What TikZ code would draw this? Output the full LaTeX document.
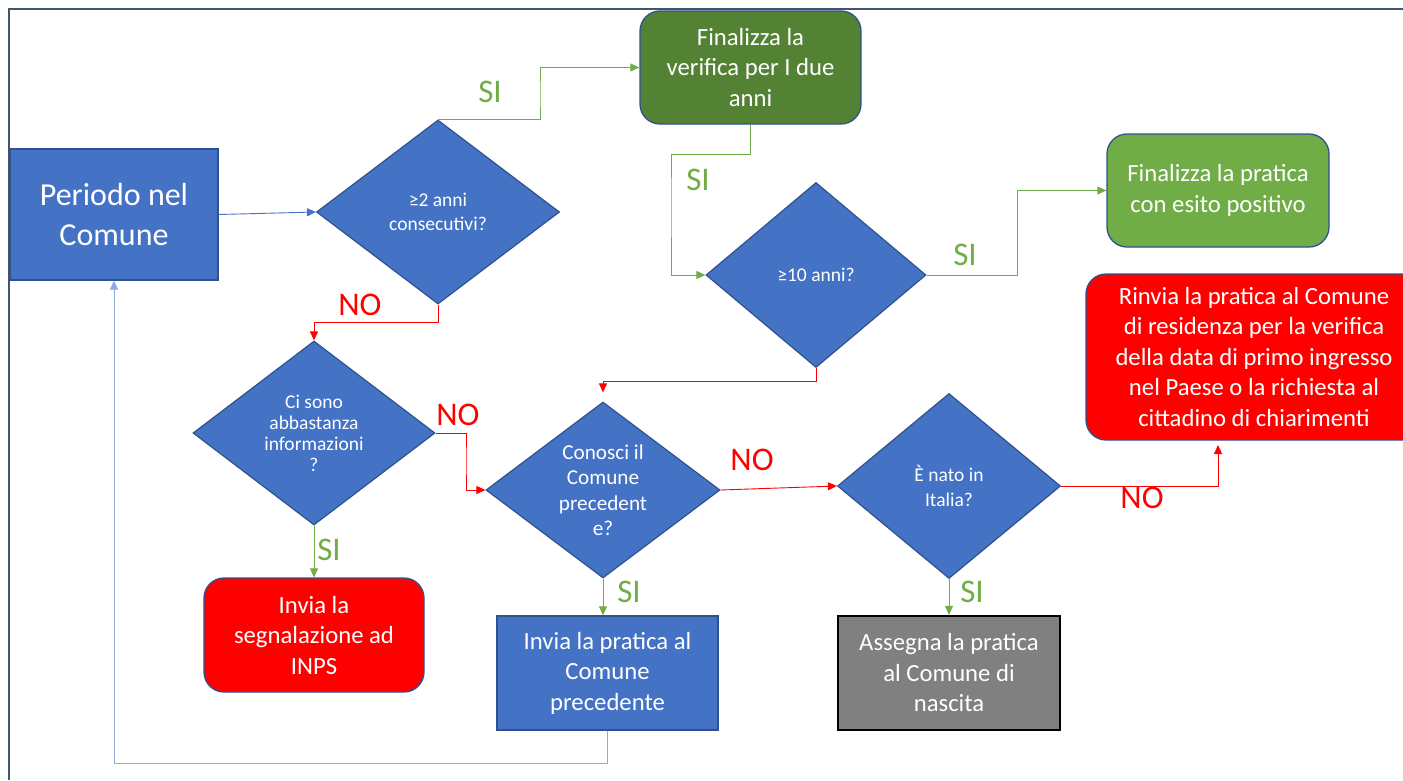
\documentclass[tikz,border=0pt]{standalone}
\usepackage{fontspec}
\setmainfont{Carlito}
\usetikzlibrary{shapes.geometric,arrows.meta}
\definecolor{pblue}{HTML}{4472C4}
\definecolor{pedge}{HTML}{2F528F}
\definecolor{dgreen}{HTML}{548235}
\definecolor{lgreen}{HTML}{70AD47}
\definecolor{pred}{HTML}{FF0000}
\definecolor{pgray}{HTML}{808080}
\definecolor{loopblue}{HTML}{8FAADC}
\definecolor{frame}{HTML}{44546A}
\begin{document}
\begin{tikzpicture}[x=1pt,y=-1pt,
  box/.style={draw=pedge,line width=1.3pt,text=white,align=center,inner sep=0pt,
    font=\fontsize{24.7}{30.5}\selectfont},
  rbox/.style={box,rounded corners=20pt},
  dia/.style={diamond,draw=pedge,line width=1.2pt,fill=pblue,text=white,align=center,inner sep=0pt},
  dtext/.style={text=white,align=center,inner sep=0pt},
  conn/.style={line width=0.9pt,-{Triangle[length=9pt,width=8pt]}},
  gline/.style={conn,draw=lgreen},
  rline/.style={conn,draw=pred},
  bline/.style={conn,draw=pblue},
  lbline/.style={conn,draw=loopblue},
  silab/.style={text=lgreen,font=\fontsize{33}{33}\selectfont,inner sep=0pt},
  nolab/.style={text=pred,font=\fontsize{33}{33}\selectfont,inner sep=0pt}]
\useasboundingbox (0,0) rectangle (1403,780);
\clip (0,0) rectangle (1403,780);
\fill[white] (0,0) rectangle (1403,780);
\draw[frame,line width=2pt] (9,780) -- (9,9) -- (1403,9);

% nodes
\node[box,fill=pblue,minimum width=208pt,minimum height=131pt,font=\fontsize{32}{40}\selectfont] (A) at (114,214.5) {Periodo nel\\Comune};
\node[rbox,fill=dgreen,minimum width=221pt,minimum height=113pt] (B) at (750.5,67.5) {Finalizza la\\verifica per I due\\anni};
\node[rbox,fill=lgreen,minimum width=222pt,minimum height=113pt] (C) at (1218,190.5) {Finalizza la pratica\\con esito positivo};
\node[rbox,fill=pred,minimum width=336pt,minimum height=166pt] (R) at (1254,357) {Rinvia la pratica al Comune\\di residenza per la verifica\\della data di primo ingresso\\nel Paese o la richiesta al\\cittadino di chiarimenti};
\node[rbox,fill=pred,minimum width=220pt,minimum height=114pt] (E) at (314,635) {Invia la\\segnalazione ad\\INPS};
\node[box,fill=pblue,minimum width=221pt,minimum height=114pt] (F) at (607.5,673) {Invia la pratica al\\Comune\\precedente};
\node[box,fill=pgray,draw=black,line width=2.2pt,minimum width=222pt,minimum height=114pt] (G) at (949,673) {Assegna la pratica\\al Comune di\\nascita};

\node[dia,minimum width=243pt,minimum height=184pt] (D1) at (438,212) {};
\node[dtext,font=\fontsize{19.5}{24}\selectfont] (T1) at (D1.center) {≥2 anni\\consecutivi?};
\node[dia,minimum width=220pt,minimum height=185pt] (D2) at (816,275) {};
\node[dtext,font=\fontsize{19.5}{22}\selectfont] (T2) at (D2.center) {≥10 anni?};
\node[dia,minimum width=242pt,minimum height=184pt] (D3) at (314,433) {};
\node[dtext,font=\fontsize{19.5}{21}\selectfont] (T3) at (D3.center) {Ci sono\\abbastanza\\informazioni\\?};
\node[dia,minimum width=234pt,minimum height=176pt] (D4) at (603,490) {};
\node[dtext,font=\fontsize{21.2}{25.5}\selectfont] (T4) at (D4.center) {Conosci il\\Comune\\precedent\\e?};
\node[dia,minimum width=223pt,minimum height=185pt] (D5) at (949,486) {};
\node[dtext,font=\fontsize{19.5}{25.5}\selectfont] (T5) at (D5.center) {È nato in\\Italia?};

% helper coordinates
\coordinate (j1) at (540,95);
\coordinate (j2) at (671,200);
\coordinate (j3) at (1017,230);
\coordinate (j4) at (466,460);
\coordinate (rin) at (1218,445);

% connectors
\draw[bline] (A.east) -- (D1.west);
\draw[gline] (D1.north) -| (j1) |- (B.west);
\draw[rline] (D1.south) -- ++(0,18) -| (D3.north);
\draw[gline] (B.south) -- ++(0,30) -| (j2) |- (D2.west);
\draw[gline] (D2.east) -| (j3) |- (C.west);
\draw[rline,shorten >=9pt] (D2.south) -- ++(0,13) -| (D4.north);
\draw[rline] (D3.east) -| (j4) |- (D4.west);
\draw[gline] (D3.south) -- (E.north);
\draw[rline] (D4.east) -- (D5.west);
\draw[gline] (D4.south) -- (D4.south |- F.north);
\draw[rline] (D5.east) -| (rin);
\draw[gline] (D5.south) -- (G.north);
\draw[lbline] (F.south) -- ++(0,33) -| (A.south);

% labels
\node[silab] (L1) at (490,92) {SI};
\node[nolab] (L2) at (360,305) {NO};
\node[silab] (L3) at (698,180) {SI};
\node[silab] (L4) at (965,255) {SI};
\node[nolab] (L5) at (458,415) {NO};
\node[silab] (L6) at (329,550) {SI};
\node[nolab] (L7) at (752,460) {NO};
\node[silab] (L8) at (629,592) {SI};
\node[silab] (L9) at (972,592) {SI};
\node[nolab] (L10) at (1142,498) {NO};
\end{tikzpicture}
\end{document}
